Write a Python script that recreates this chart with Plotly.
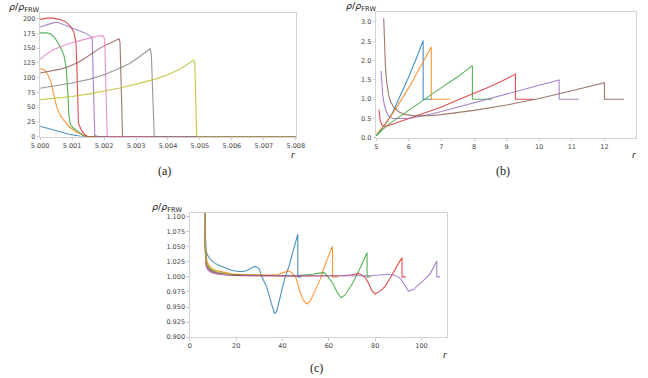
import plotly.graph_objects as go

COLORS = ["#1f77b4", "#ff7f0e", "#2ca02c", "#d62728", "#9467bd",
          "#8c564b", "#e377c2", "#7f7f7f", "#bcbd22"]

# ---------------- panel (a) ----------------
a_blue_r = [5.0, 5.0003, 5.00055, 5.0009, 5.00126, 5.0014, 5.008]
a_blue_v = [17.5, 13, 9, 4, 0.5, 0, 0]
a_orange_r = [5.0, 5.00014, 5.00025, 5.00034, 5.0004, 5.00045, 5.00052, 5.0006, 5.0007, 5.0008, 5.0009, 5.0011, 5.00136, 5.0015, 5.008]
a_orange_v = [116, 113, 104, 92, 78, 64, 50, 39, 30, 24, 17, 9, 2, 0, 0]
a_green_r = [5.0, 5.0002, 5.00034, 5.00045, 5.00055, 5.00065, 5.00075, 5.00082, 5.00087, 5.0009, 5.00095, 5.00105, 5.0012, 5.00136, 5.0015, 5.008]
a_green_v = [176, 176, 174, 168, 160, 150, 137, 115, 70, 36, 20, 14, 8, 1, 0, 0]
a_red_r = [5.0, 5.0002, 5.0004, 5.0006, 5.0008, 5.00095, 5.00105, 5.00112, 5.00115, 5.00117, 5.0012, 5.0013, 5.0014, 5.00148, 5.008]
a_red_v = [199, 201, 201, 199, 195, 187, 178, 160, 120, 60, 22, 10, 3, 0, 0]
a_purple_r = [5.0, 5.0002, 5.0004, 5.00055, 5.0007, 5.0009, 5.00105, 5.0012, 5.0014, 5.00156, 5.00163, 5.00166, 5.00171, 5.0018, 5.008]
a_purple_v = [186, 190, 193, 194, 191, 186, 183, 180, 176, 171, 168, 100, 2, 0, 0]
a_brown_r = [5.0, 5.0003, 5.0006, 5.0009, 5.0012, 5.0014, 5.00166, 5.0019, 5.0022, 5.00247, 5.0025, 5.00254, 5.00258, 5.008]
a_brown_v = [108, 111, 114, 119, 126, 133, 142, 151, 159, 166, 160, 60, 0, 0]
a_pink_r = [5.0, 5.0002, 5.0004, 5.0006, 5.0008, 5.00105, 5.0013, 5.0016, 5.00185, 5.00197, 5.00202, 5.00206, 5.0021, 5.008]
a_pink_v = [131, 140, 147, 152, 156, 160, 164, 168, 171, 171, 165, 60, 0, 0]
a_gray_r = [5.0, 5.0005, 5.001, 5.00156, 5.002, 5.00247, 5.0028, 5.0031, 5.00335, 5.00344, 5.00348, 5.00353, 5.00357, 5.008]
a_gray_v = [82, 86, 91, 97.5, 105, 115.4, 124, 135, 146, 149, 140, 60, 0, 0]
a_olive_r = [5.0, 5.0005, 5.001, 5.0015, 5.00207, 5.0025, 5.003, 5.00359, 5.004, 5.0044, 5.0048, 5.00484, 5.00487, 5.0049, 5.008]
a_olive_v = [62.7, 65, 68, 72, 77.8, 82.5, 89, 97.5, 105, 115, 130, 125, 60, 0, 0]

# ---------------- panel (b) ----------------
b_blue_r = [5.0, 5.1, 5.25, 5.5, 5.75, 6.0, 6.25, 6.44, 6.44, 6.7]
b_blue_v = [0.05, 0.15, 0.32, 0.65, 1.1, 1.58, 2.1, 2.52, 1.0, 1.0]
b_orange_r = [5.0, 5.15, 5.3, 5.5, 5.75, 6.0, 6.25, 6.5, 6.69, 6.69, 7.28]
b_orange_v = [0.08, 0.22, 0.38, 0.62, 0.95, 1.3, 1.68, 2.06, 2.35, 1.0, 1.0]
b_green_r = [5.0, 5.2, 5.5, 6.0, 6.5, 7.0, 7.5, 7.95, 7.95, 8.55]
b_green_v = [0.05, 0.22, 0.42, 0.72, 1.02, 1.3, 1.58, 1.87, 1.0, 1.0]
b_red_r = [5.085, 5.095, 5.12, 5.16, 5.2, 5.3, 5.5, 6.0, 6.5, 7.0, 7.5, 8.0, 8.5, 9.0, 9.27, 9.27, 9.83]
b_red_v = [0.73, 0.62, 0.46, 0.36, 0.31, 0.3, 0.35, 0.5, 0.64, 0.8, 0.98, 1.15, 1.33, 1.53, 1.65, 1.0, 1.0]
b_purple_r = [5.15, 5.17, 5.2, 5.25, 5.3, 5.37, 5.5, 6.0, 6.5, 7.0, 8.0, 9.0, 10.0, 10.61, 10.61, 11.22]
b_purple_v = [1.73, 1.45, 1.1, 0.85, 0.7, 0.58, 0.5, 0.5, 0.58, 0.68, 0.9, 1.12, 1.36, 1.5, 1.0, 1.0]
b_brown_r = [5.23, 5.25, 5.28, 5.32, 5.38, 5.45, 5.55, 5.7, 5.9, 6.2, 6.6, 7.0, 8.0, 9.0, 10.0, 11.0, 12.0, 12.0, 12.6]
b_brown_v = [3.1, 2.6, 1.9, 1.45, 1.12, 0.92, 0.78, 0.67, 0.6, 0.57, 0.57, 0.6, 0.71, 0.85, 1.02, 1.22, 1.43, 1.0, 1.0]

# ---------------- panel (c) ----------------
c_blue_r = [6.0, 6.3, 6.6, 7.0, 7.5, 8.5, 10, 12, 15, 18, 21, 23, 25, 27, 28.5, 30, 31, 33.2, 35.2, 36.6, 37.5, 38.5, 39.4, 40.2, 41, 42.9, 44.8, 46.6, 46.6, 48.1]
c_blue_v = [1.6, 1.2, 1.08, 1.045, 1.037, 1.031, 1.025, 1.02, 1.015, 1.011, 1.009, 1.009, 1.011, 1.016, 1.0175, 1.013, 1.001, 0.983, 0.956, 0.939, 0.943, 0.958, 0.976, 0.988, 0.998, 1.019, 1.045, 1.071, 1.0, 1.0]
c_orange_r = [5.9, 6.2, 6.6, 7.0, 7.5, 8.5, 10, 12, 15, 18, 22, 26, 30, 34, 38, 40, 42, 43, 44, 45.7, 47.8, 49.2, 50.6, 52, 53.5, 55, 56.2, 57.5, 59, 60.3, 61.6, 61.6, 63.9]
c_orange_v = [1.6, 1.2, 1.07, 1.035, 1.025, 1.018, 1.013, 1.01, 1.007, 1.005, 1.004, 1.0035, 1.003, 1.003, 1.004, 1.007, 1.0092, 1.0094, 1.007, 1.0, 0.9725, 0.96, 0.955, 0.96, 0.972, 0.985, 0.995, 1.011, 1.028, 1.039, 1.051, 1.0, 1.0]
c_green_r = [5.9, 6.2, 6.6, 7.0, 7.5, 8.5, 10, 12, 15, 18, 22, 26, 30, 35, 40, 45, 50, 53, 55, 57.9, 59.5, 61.8, 63.5, 65.3, 67, 68.5, 70.2, 72.3, 74.4, 76.5, 76.5, 77.9]
c_green_v = [1.6, 1.2, 1.06, 1.03, 1.02, 1.014, 1.01, 1.007, 1.005, 1.004, 1.003, 1.0025, 1.002, 1.002, 1.002, 1.002, 1.003, 1.0045, 1.0058, 1.007, 1.001, 0.989, 0.975, 0.9654, 0.97, 0.978, 0.989, 1.005, 1.022, 1.04, 1.0, 1.0]
c_red_r = [5.9, 6.2, 6.6, 7.0, 7.5, 8.5, 10, 12, 15, 18, 22, 26, 30, 40, 50, 60, 66, 70, 73, 75.5, 77.2, 78.6, 80, 82, 84.2, 86, 87.8, 89.7, 91.6, 91.6, 93.3]
c_red_v = [1.6, 1.2, 1.055, 1.025, 1.017, 1.012, 1.008, 1.006, 1.004, 1.003, 1.0025, 1.002, 1.002, 1.0015, 1.0015, 1.0015, 1.002, 1.0035, 1.0055, 1.0, 0.989, 0.977, 0.9716, 0.976, 0.984, 0.995, 1.008, 1.02, 1.032, 1.0, 1.0]
c_purple_r = [5.9, 6.2, 6.6, 7.0, 7.5, 8.5, 10, 12, 15, 18, 22, 26, 30, 40, 50, 60, 70, 78, 83, 85.6, 88, 90, 91.2, 92.8, 94.4, 96.5, 98, 99.6, 101.7, 103.8, 105.2, 106.6, 106.6, 108]
c_purple_v = [1.6, 1.2, 1.05, 1.02, 1.013, 1.009, 1.006, 1.0045, 1.003, 1.0025, 1.002, 1.002, 1.0015, 1.0015, 1.0015, 1.0015, 1.0015, 1.002, 1.0035, 1.0045, 1.003, 1.0, 0.996, 0.985, 0.9765, 0.979, 0.984, 0.989, 0.997, 1.0055, 1.015, 1.0264, 1.0, 1.0]
c_brown_r = [5.9, 6.2, 6.6, 7.0, 7.5, 8.5, 10, 12, 15, 18, 22]
c_brown_v = [1.6, 1.2, 1.05, 1.022, 1.015, 1.011, 1.008, 1.006, 1.004, 1.003, 1.0025]
c_pink_r = [5.8, 6.1, 6.5, 6.9, 7.5, 8.5, 10, 12, 15, 18]
c_pink_v = [1.6, 1.2, 1.06, 1.02, 1.014, 1.01, 1.007, 1.005, 1.004, 1.003]
c_gray_r = [5.9, 6.2, 6.6, 7.0, 7.5, 8.5, 10, 12, 15, 18]
c_gray_v = [1.6, 1.2, 1.055, 1.025, 1.018, 1.013, 1.009, 1.007, 1.005, 1.004]
c_olive_r = [5.9, 6.2, 6.6, 7.0, 7.5, 8.5, 10, 12, 15, 18]
c_olive_v = [1.6, 1.2, 1.06, 1.028, 1.021, 1.016, 1.012, 1.009, 1.006, 1.004]

panel_a = [(a_blue_r, a_blue_v), (a_orange_r, a_orange_v), (a_green_r, a_green_v),
           (a_red_r, a_red_v), (a_purple_r, a_purple_v), (a_brown_r, a_brown_v),
           (a_pink_r, a_pink_v), (a_gray_r, a_gray_v), (a_olive_r, a_olive_v)]
panel_b = [(b_blue_r, b_blue_v), (b_orange_r, b_orange_v), (b_green_r, b_green_v),
           (b_red_r, b_red_v), (b_purple_r, b_purple_v), (b_brown_r, b_brown_v)]
panel_c = [(c_blue_r, c_blue_v), (c_orange_r, c_orange_v), (c_green_r, c_green_v),
           (c_red_r, c_red_v), (c_purple_r, c_purple_v), (c_brown_r, c_brown_v),
           (c_pink_r, c_pink_v), (c_gray_r, c_gray_v), (c_olive_r, c_olive_v)]

W, H = 648, 378
fig = go.Figure()

for axn, panel in (("", panel_a), ("2", panel_b), ("3", panel_c)):
    for i, (r, v) in enumerate(panel):
        fig.add_trace(go.Scatter(x=r, y=v, mode="lines", xaxis="x" + axn, yaxis="y" + axn,
                                 line=dict(color=COLORS[i], width=1.1), opacity=0.8,
                                 showlegend=False, hoverinfo="skip"))

def px_dom_x(a, b):
    return [a / W, b / W]

def px_dom_y(top, bot):
    return [1 - bot / H, 1 - top / H]

tickfont = dict(family="DejaVu Sans", size=6.5, color="#444444")
common = dict(showline=True, mirror=True, linecolor="#d3d3d3", linewidth=1,
              ticks="outside", ticklen=2.5, tickcolor="#cccccc", tickwidth=0.8,
              showgrid=False, zeroline=False, tickfont=tickfont)

fig.update_layout(
    width=W, height=H, margin=dict(l=0, r=0, t=0, b=0),
    paper_bgcolor="white", plot_bgcolor="white",
    xaxis=dict(domain=px_dom_x(32, 295), range=[5.0, 5.008], dtick=0.001, tick0=5.0,
               tickformat=".3f", anchor="y", **common),
    yaxis=dict(domain=px_dom_y(13, 138), range=[0, 210], dtick=25, tick0=0,
               anchor="x", **common),
    xaxis2=dict(domain=px_dom_x(377.7, 645), range=[5, 12.97], dtick=1, tick0=5,
                anchor="y2", **common),
    yaxis2=dict(domain=px_dom_y(11.7, 139.3), range=[0, 3.27], dtick=0.5, tick0=0,
                tickformat=".1f", anchor="x2", **common),
    xaxis3=dict(domain=px_dom_x(186, 450), range=[0, 110.8], dtick=20, tick0=0,
                anchor="y3", **common),
    yaxis3=dict(domain=px_dom_y(215.7, 340.7), range=[0.9, 1.1055], dtick=0.025, tick0=0.9,
                tickformat=".3f", anchor="x3", **common),
)

ylab = "<i>ρ</i>/<i>ρ</i><sub>FRW</sub>"
labfont = dict(family="DejaVu Sans", size=9.5, color="#222222")
rfont = dict(family="DejaVu Sans", size=9, color="#222222")
capfont = dict(family="Liberation Serif", size=12, color="#222222")
annots = [
    (15, 8, ylab, labfont), (362, 7, ylab, labfont), (162, 210, ylab, labfont),
    (293, 157, "<i>r</i>", rfont), (643, 157, "<i>r</i>", rfont), (449, 359, "<i>r</i>", rfont),
    (160, 173, "(a)", capfont), (508, 173, "(b)", capfont), (316, 372, "(c)", capfont),
]
for x, y, t, f in annots:
    fig.add_annotation(x=x / W, y=1 - y / H, xref="paper", yref="paper", text=t,
                       showarrow=False, font=f, xanchor="center", yanchor="middle")

fig.write_html("out.html")
